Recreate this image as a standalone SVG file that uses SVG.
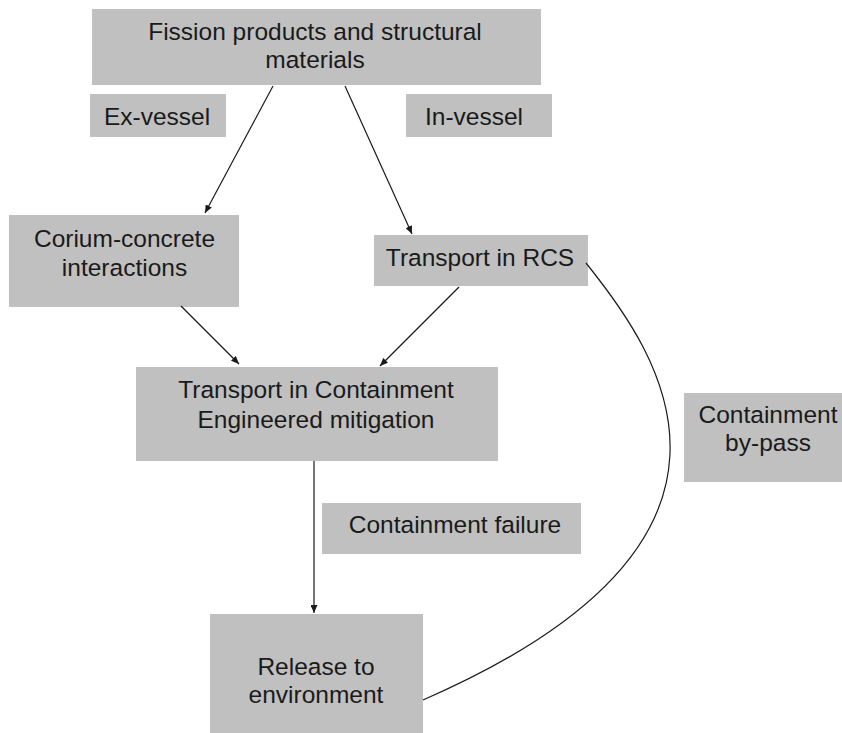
<svg xmlns="http://www.w3.org/2000/svg" width="842" height="733" viewBox="0 0 842 733">
<style>
.box{fill:#c0c0c0;}
.lbl{font-family:"Liberation Sans",Arial,sans-serif;font-size:24.5px;fill:#1a1a1a;text-anchor:middle;}
.edge{fill:none;stroke:#1a1a1a;stroke-width:1.2;}
</style>
<defs>
<marker id="ah" markerUnits="userSpaceOnUse" markerWidth="9" markerHeight="7" refX="8" refY="3.5" orient="auto">
<path d="M0,0 L8,3.5 L0,7 z" fill="#1a1a1a"/>
</marker>
</defs>
<rect width="842" height="733" fill="#ffffff"/>
<g id="fission">
<rect class="box" x="92" y="9" width="449" height="76"/>
<text class="lbl" x="315" y="40">Fission products and structural</text>
<text class="lbl" x="315" y="68">materials</text>
</g>
<g id="exvessel">
<rect class="box" x="90" y="94" width="136" height="43"/>
<text class="lbl" x="157" y="125">Ex-vessel</text>
</g>
<g id="invessel">
<rect class="box" x="406" y="94" width="146" height="43"/>
<text class="lbl" x="474" y="125">In-vessel</text>
</g>
<g id="corium">
<rect class="box" x="9" y="215" width="230" height="92"/>
<text class="lbl" x="124.5" y="247">Corium-concrete</text>
<text class="lbl" x="124.5" y="276">interactions</text>
</g>
<g id="rcs">
<rect class="box" x="374" y="235" width="214" height="51"/>
<text class="lbl" x="480" y="266">Transport in RCS</text>
</g>
<g id="containment">
<rect class="box" x="136" y="367" width="362" height="94"/>
<text class="lbl" x="316" y="398">Transport in Containment</text>
<text class="lbl" x="316" y="428">Engineered mitigation</text>
</g>
<g id="bypass">
<rect class="box" x="684" y="393" width="158" height="89"/>
<text class="lbl" x="768" y="423">Containment</text>
<text class="lbl" x="768" y="451">by-pass</text>
</g>
<g id="failure">
<rect class="box" x="322" y="503" width="259" height="51"/>
<text class="lbl" x="455" y="533">Containment failure</text>
</g>
<g id="release">
<rect class="box" x="210" y="614" width="213" height="119"/>
<text class="lbl" x="316" y="675">Release to</text>
<text class="lbl" x="316" y="703">environment</text>
</g>
<g id="connectors">
<line class="edge" x1="273" y1="86" x2="205" y2="213" marker-end="url(#ah)"/>
<line class="edge" x1="345" y1="86" x2="412" y2="234" marker-end="url(#ah)"/>
<line class="edge" x1="181" y1="306" x2="239" y2="364" marker-end="url(#ah)"/>
<line class="edge" x1="459" y1="287" x2="380" y2="366" marker-end="url(#ah)"/>
<line class="edge" x1="314" y1="461" x2="314" y2="613" marker-end="url(#ah)"/>
<path class="edge" d="M586,263 C660,355 790,540 423,700"/>
</g>
</svg>
